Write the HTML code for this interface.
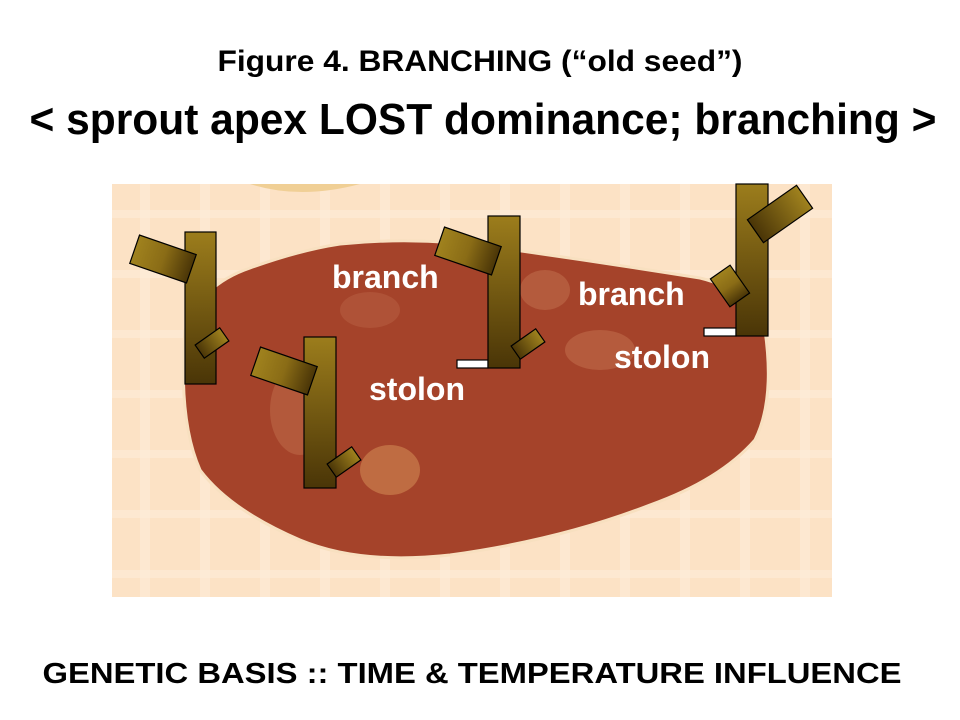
<!DOCTYPE html>
<html><head><meta charset="utf-8"><style>html,body{margin:0;padding:0;background:#fff}svg{display:block}</style></head>
<body>
<svg width="960" height="720" viewBox="0 0 960 720" xmlns="http://www.w3.org/2000/svg" font-family="Liberation Sans, Arial, sans-serif" font-weight="bold">
<defs>
<linearGradient id="st" x1="0" y1="0" x2="0" y2="1"><stop offset="0" stop-color="#9c7d1c"/><stop offset="1" stop-color="#4a3507"/></linearGradient>
<linearGradient id="br" x1="0" y1="0" x2="1" y2="0"><stop offset="0" stop-color="#a0821e"/><stop offset="0.5" stop-color="#8a6c16"/><stop offset="1" stop-color="#4a3507"/></linearGradient>
<linearGradient id="brr" x1="1" y1="0" x2="0" y2="0"><stop offset="0" stop-color="#a0821e"/><stop offset="1" stop-color="#4a3507"/></linearGradient>
<pattern id="grid" width="60" height="60" patternUnits="userSpaceOnUse"><rect width="60" height="60" fill="#fce2c5"/><rect x="20" width="10" height="60" fill="#feecd8" opacity="0.6"/><rect y="30" width="60" height="8" fill="#feecd8" opacity="0.6"/></pattern>
</defs>
<text x="480" y="71" font-size="30" text-anchor="middle" textLength="525" lengthAdjust="spacingAndGlyphs">Figure 4. BRANCHING  (“old seed”)</text>
<text x="483" y="134" font-size="44" text-anchor="middle" textLength="907" lengthAdjust="spacingAndGlyphs">&lt; sprout apex LOST dominance; branching &gt;</text>
<text x="472" y="683" font-size="29" text-anchor="middle" textLength="859" lengthAdjust="spacingAndGlyphs">GENETIC BASIS :: TIME  &amp;  TEMPERATURE  INFLUENCE</text>

<rect x="112" y="184" width="720" height="413" fill="url(#grid)"/>
<path d="M250 184 Q300 200 360 184 Z" fill="#f0cf95"/>
<path d="M185 330 Q200 285 250 268 Q300 250 340 244 Q420 236 500 248 Q600 262 700 278 Q750 290 765 330 Q775 400 755 440 Q720 480 650 505 Q560 540 450 555 Q360 565 300 540 Q230 510 200 470 Q178 420 185 330 Z" fill="#a5432a" stroke="#f8e0c0" stroke-width="3"/>
<ellipse cx="300" cy="410" rx="30" ry="45" fill="#c87a55" opacity="0.4"/>
<ellipse cx="390" cy="470" rx="30" ry="25" fill="#e0a060" opacity="0.45"/>
<ellipse cx="600" cy="350" rx="35" ry="20" fill="#d48a60" opacity="0.35"/>
<ellipse cx="545" cy="290" rx="25" ry="20" fill="#d08a60" opacity="0.35"/>
<ellipse cx="370" cy="310" rx="30" ry="18" fill="#c27050" opacity="0.35"/>

<g stroke="#000" stroke-width="1.2">
<rect x="185" y="232" width="31" height="152" fill="url(#st)"/>
<rect x="-30" y="-15" width="60" height="30" fill="url(#br)" transform="translate(163,259) rotate(19)"/>
<rect x="-15" y="-8" width="30" height="16" fill="url(#brr)" transform="translate(212,343) rotate(-35)"/>
<rect x="304" y="337" width="32" height="151" fill="url(#st)"/>
<rect x="-30" y="-15" width="60" height="30" fill="url(#br)" transform="translate(284,371) rotate(19)"/>
<rect x="-15" y="-8" width="30" height="16" fill="url(#brr)" transform="translate(344,462) rotate(-35)"/>
<rect x="457" y="360" width="31" height="8" fill="#fff"/>
<rect x="488" y="216" width="32" height="152" fill="url(#st)"/>
<rect x="-30" y="-15" width="60" height="30" fill="url(#br)" transform="translate(468,251) rotate(19)"/>
<rect x="-15" y="-8" width="30" height="16" fill="url(#brr)" transform="translate(528,344) rotate(-35)"/>
<rect x="704" y="328" width="32" height="8" fill="#fff"/>
<rect x="736" y="184" width="32" height="152" fill="url(#st)"/>
<rect x="-30" y="-14" width="60" height="28" fill="url(#brr)" transform="translate(780,214) rotate(-35)"/>
<rect x="-17" y="-12" width="34" height="24" fill="url(#br)" transform="translate(730,286) rotate(55)"/>
</g>

<g fill="#fff" font-size="32">
<text x="332" y="288">branch</text>
<text x="578" y="305">branch</text>
<text x="369" y="400">stolon</text>
<text x="614" y="368">stolon</text>
</g>
</svg>
</body></html>
